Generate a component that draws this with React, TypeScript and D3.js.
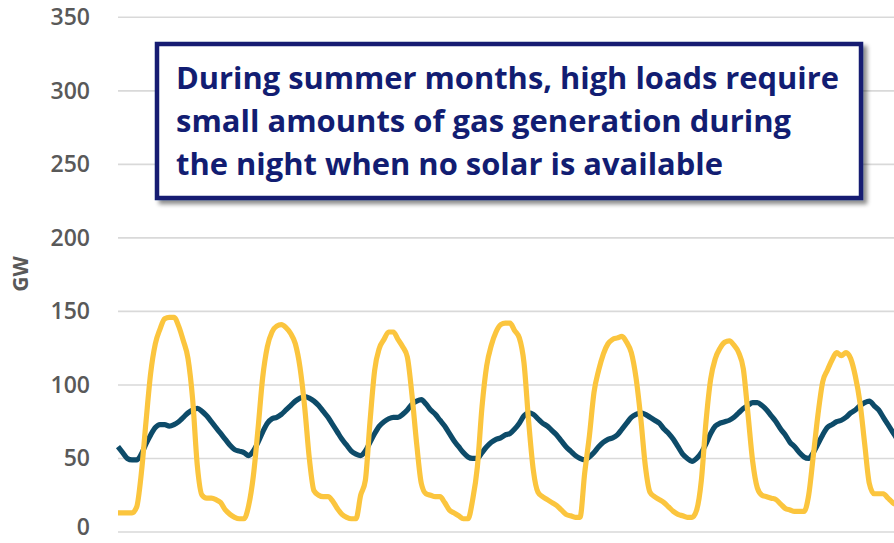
import React from "react";
import * as d3 from "d3";

// Hourly values over one week (GW)
const solar: number[] = [
  13, 13, 13, 13, 17, 40, 75, 108, 128, 138, 145, 146, 146, 140, 130, 118, 90, 45, 25, 23, 23, 22, 20, 15,
  12, 10, 9, 9, 18, 38, 70, 105, 126, 136, 140, 141, 139, 135, 128, 112, 85, 50, 28, 25, 24, 24, 21, 16,
  12, 10, 9, 9, 25, 35, 75, 110, 125, 131, 136, 136, 131, 126, 119, 93, 60, 33, 26, 25, 24, 24, 20, 15,
  13, 11, 9, 9, 22, 44, 85, 113, 127, 136, 141, 142, 142, 137, 132, 115, 75, 42, 27, 24, 22, 20, 18, 15,
  12, 11, 10, 10, 40, 65, 95, 110, 121, 128, 131, 132, 133, 129, 122, 105, 78, 45, 27, 24, 22, 20, 17, 14,
  12, 11, 10, 10, 15, 35, 75, 104, 118, 125, 129, 130, 127, 122, 111, 80, 48, 30, 25, 24, 23, 22, 19, 16,
  15, 14, 14, 14, 25, 52, 80, 102, 110, 117, 122, 120, 122, 118, 106, 88, 60, 33, 26, 26, 26, 23, 20, 18,
];

const gas: number[] = [
  58, 54, 50, 49, 49, 53, 60, 66, 71, 73, 73, 72, 73, 75, 78, 81, 83, 84, 82, 79, 75, 71, 67, 63,
  59, 56, 55, 54, 52, 55, 61, 68, 74, 77, 78, 80, 83, 86, 89, 91, 92, 91, 89, 86, 82, 78, 73, 68,
  63, 59, 55, 53, 52, 55, 61, 67, 72, 75, 77, 78, 78, 80, 83, 87, 89, 90, 87, 83, 80, 76, 72, 67,
  62, 58, 54, 51, 50, 50, 54, 58, 61, 63, 64, 66, 67, 70, 74, 79, 81, 80, 77, 74, 72, 69, 66, 62,
  58, 55, 52, 50, 49, 51, 54, 58, 61, 63, 64, 66, 70, 74, 78, 80, 81, 80, 78, 76, 74, 70, 67, 63,
  58, 53, 50, 48, 50, 54, 60, 67, 72, 74, 75, 76, 78, 81, 84, 86, 88, 88, 86, 83, 79, 75, 70, 66,
  61, 58, 54, 51, 50, 54, 60, 66, 71, 73, 75, 76, 78, 81, 83, 86, 88, 89, 86, 83, 78, 73, 68, 63,
];

const yTicks: number[] = [0, 50, 100, 150, 200, 250, 300, 350];

const noteLines: string[] = [
  "During summer months, high loads require",
  "small amounts of gas generation during",
  "the night when no solar is available",
];

export default function App() {
  const W = 894;
  const H = 543;
  const x0 = 118;
  const hourPx = 112 / 24;
  const x = d3.scaleLinear().domain([0, 167]).range([x0, x0 + 167 * hourPx]);
  const y = d3.scaleLinear().domain([0, 350]).range([532, 17.3]);

  const line = d3
    .line<number>()
    .x((_, i) => x(i))
    .y((d) => y(d))
    .curve(d3.curveMonotoneX);

  const lineLens = [663, 615, 547];

  return (
    <svg
      width={W}
      height={H}
      style={{ position: "absolute", left: 0, top: 0, background: "#fff" }}
    >
      <defs>
        <filter id="sh" x="-5%" y="-10%" width="115%" height="130%">
          <feGaussianBlur in="SourceAlpha" stdDeviation="2" />
          <feOffset dx="4" dy="4" result="o" />
          <feComponentTransfer>
            <feFuncA type="linear" slope="0.45" />
          </feComponentTransfer>
          <feMerge>
            <feMergeNode />
            <feMergeNode in="SourceGraphic" />
          </feMerge>
        </filter>
      </defs>
      {yTicks.map((t) => (
        <g key={t}>
          <line x1={x0} x2={W} y1={y(t)} y2={y(t)} stroke="#d9d9d9" strokeWidth={1.6} />
          <text
            x={90}
            y={Math.min(y(t) - 1, 526)}
            textAnchor="end"
            dominantBaseline="central"
            fontFamily="'Open Sans', sans-serif"
            fontWeight={600}
            fontSize={23}
            fill="#595959"
          >
            {t}
          </text>
        </g>
      ))}
      <text
        transform={`translate(28,274) rotate(-90)`}
        textAnchor="middle"
        fontFamily="'Open Sans', sans-serif"
        fontWeight="bold"
        fontSize={21}
        fill="#595959"
      >
        GW
      </text>
      <path d={line(gas) || ""} fill="none" stroke="#0d4b69" strokeWidth={5.2} strokeLinejoin="round" />
      <path d={line(solar) || ""} fill="none" stroke="#fbc53e" strokeWidth={5.2} strokeLinejoin="round" />

      <g filter="url(#sh)">
        <rect x={157} y={44} width={704} height={154} fill="#fff" stroke="#121d72" strokeWidth={4.5} />
      </g>
      {noteLines.map((s, i) => (
        <text
          key={i}
          x={176}
          y={89 + i * 43}
          fontFamily="'Open Sans', sans-serif"
          fontWeight="bold"
          fontSize={30}
          fill="#121d72"
          textLength={lineLens[i]}
          lengthAdjust="spacingAndGlyphs"
        >
          {s}
        </text>
      ))}
    </svg>
  );
}
